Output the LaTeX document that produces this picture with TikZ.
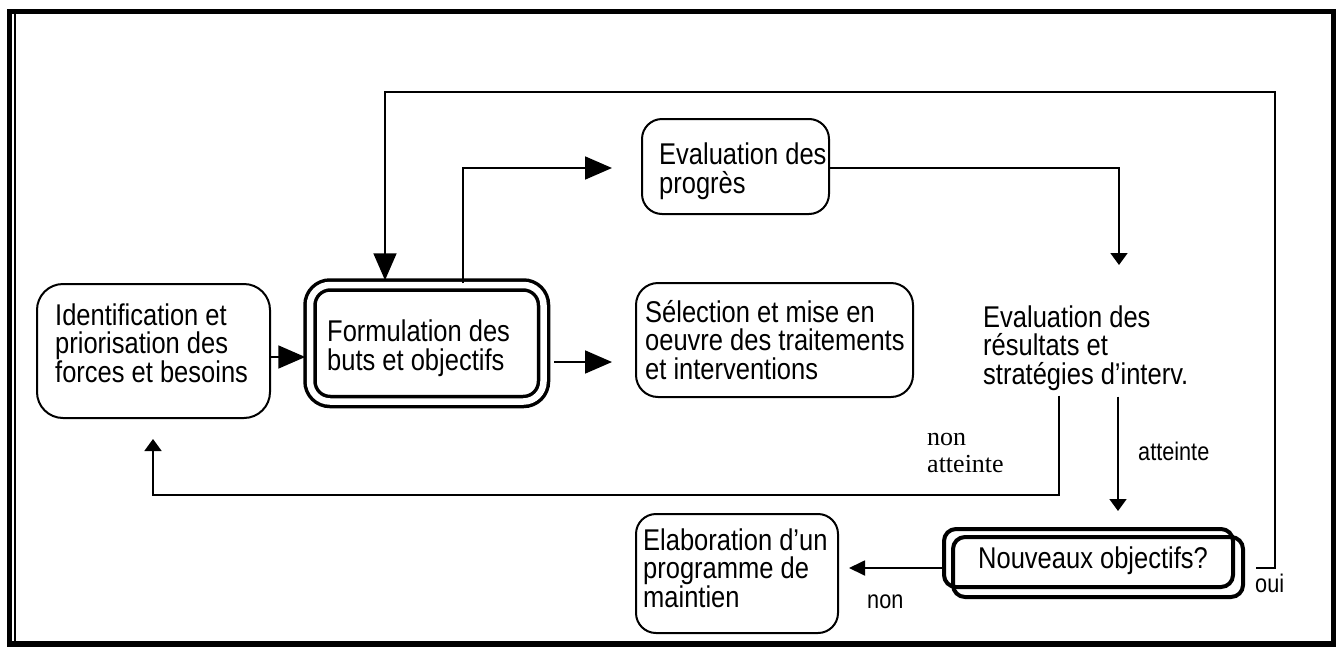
\documentclass[tikz,border=0pt]{standalone}
\usepackage{fontspec}
\usetikzlibrary{arrows.meta}
\newfontfamily\boxfont[FakeStretch=0.85]{Liberation Sans}
\newfontfamily\seriflab{Liberation Serif}
\begin{document}
\begin{tikzpicture}[x=1pt,y=-1pt,
  box/.style={draw, line width=2pt, rounded corners=22pt, inner sep=0pt},
  txt/.style={inner sep=0pt, align=left, anchor=west, font=\boxfont\fontsize{30}{28.5}\selectfont},
  lab/.style={inner sep=0pt, anchor=base west, font=\boxfont\fontsize{25.5}{26}\selectfont},
  conn/.style={line width=1.8pt},
  bigtip/.style={-{Triangle[length=27pt,width=23pt]}},
  smalltip/.style={-{Triangle[length=12pt,width=17pt]}},
  midtip/.style={-{Triangle[length=16pt,width=15pt]}}]
\useasboundingbox (0,0) rectangle (1344,648);
% frame
\draw[line width=5.5pt] (9.5,11.5) rectangle (1333.5,644);
\draw[line width=2pt] (14.5,14) -- (14.5,641);
% boxes
\node[box, rounded corners=26pt, minimum width=233pt, minimum height=134pt] (ident) at (153.5,351) {};
\node[txt] (identt) at (55,343) {Identification et\\priorisation des\\forces et besoins};
\node[box, line width=3.5pt, double, double distance=6.5pt, rounded corners=20pt, minimum width=233.5pt, minimum height=116.5pt] (form) at (426.75,343.25) {};
\node[txt] (formt) at (327,348) {Formulation des\\buts et objectifs};
\node[box, rounded corners=20pt, minimum width=187pt, minimum height=95pt] (progres) at (735.5,166.5) {};
\node[txt] (progrest) at (659,171) {Evaluation des\\progrès};
\node[box, minimum width=277pt, minimum height=114pt] (select) at (774.5,340) {};
\node[txt] (selectt) at (645,340) {Sélection et mise en\\oeuvre des traitements\\et interventions};
\node[box, rounded corners=20pt, minimum width=202pt, minimum height=119pt] (elab) at (737,573.5) {};
\node[txt] (elabt) at (643,568) {Elaboration d’un\\programme de\\maintien};
\node[txt] (evalrest) at (983,348) {Evaluation des\\résultats et\\stratégies d’interv.};
\node[box, line width=4pt, rounded corners=12pt, minimum width=289pt, minimum height=58pt] (nouvA) at (1088.5,558) {};
\node[box, line width=4pt, rounded corners=12pt, minimum width=290pt, minimum height=60pt] (nouvB) at (1098,567) {};
\node[txt] (nouvt) at (978,560.5) {Nouveaux objectifs?};
% labels
\node[font=\seriflab\fontsize{26}{27}\selectfont, align=left, inner sep=0pt, anchor=west] (nonatt) at (927,452.5) {non\\atteinte};
\node[lab] (att) at (1138,460) {atteinte};
\node[lab] (nonlab) at (867,608) {non};
\node[lab] (oui) at (1255,592) {oui};
% connectors
\coordinate (progtip) at (1119,265);
\coordinate (ouistart) at (1256,568);
\draw[conn, bigtip, shorten >=3pt] (ident.east |- 0,357) -- (form.west |- 0,357);
\draw[conn, bigtip, shorten <=9pt, shorten >=23pt] (form.east |- 0,362) -- (select.west |- 0,362);
\draw[conn, bigtip, shorten >=29pt] (form.north -| 463,0) -- (463,168) -- (progres.west |- 0,168);
\draw[conn, smalltip] (progres.east |- 0,168) -- (1119,168) -- (progtip);
\draw[conn, smalltip, shorten <=6pt, shorten >=16pt] (evalrest.south -| 1118,0) -- (nouvA.north -| 1118,0);
\draw[conn, smalltip, shorten <=5pt, shorten >=20pt] (evalrest.south -| 1059,0) -- (1059,495) -- (153,495) -- (ident.south -| 153,0);
\draw[conn, midtip, shorten >=10pt] (nouvA.west |- 0,568) -- (elab.east |- 0,568);
\draw[conn, bigtip, shorten >=3pt] (ouistart) -- (1275,568) -- (1275,92) -- (385,92) -- (form.north -| 385,0);
\end{tikzpicture}
\end{document}
